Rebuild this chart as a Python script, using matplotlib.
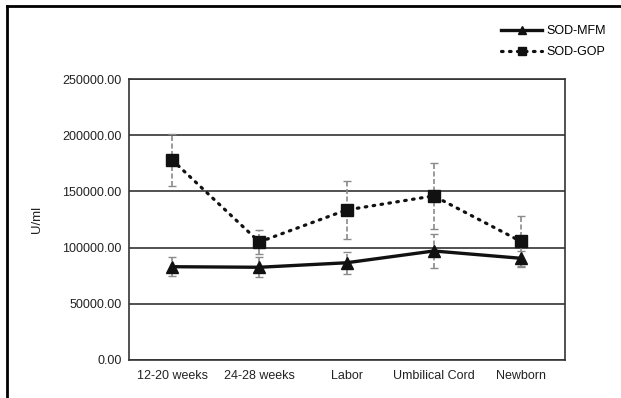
import matplotlib
matplotlib.use("Agg")
import matplotlib.pyplot as plt
from matplotlib.lines import Line2D
import numpy as np

plt.rcParams['font.family'] = ['Liberation Sans', 'DejaVu Sans']

categories = ["12-20 weeks", "24-28 weeks", "Labor", "Umbilical Cord", "Newborn"]
mfm_mean = [83000, 82500, 86500, 97000, 90500]
mfm_sd = [8500, 8700, 10000, 15000, 6500]
gop_mean = [178000, 105000, 133500, 146000, 105500]
gop_sd = [23000, 10500, 25500, 29500, 22800]
yticks = [0, 50000, 100000, 150000, 200000, 250000]

W, H = 621, 398
fig = plt.figure(figsize=(W / 100, H / 100), dpi=100)
ax = fig.add_axes([128.5 / W, 1 - 360 / H, (564.5 - 128.5) / W, (360 - 79) / H])

x = np.arange(len(categories))

# error bars
for means, sds in ((gop_mean, gop_sd), (mfm_mean, mfm_sd)):
    eb = ax.errorbar(x, means, yerr=sds, fmt='none', ecolor='#8a8a8a',
                     elinewidth=1.2, capsize=3, capthick=1.0, zorder=2)
    for lc in eb[2]:
        lc.set_linestyle((0, (3, 1.5)))

ax.plot(x, mfm_mean, color='#111111', lw=2.4, marker='^', ms=9,
        markerfacecolor='#111111', markeredgecolor='#111111', zorder=4, label='SOD-MFM')
ax.plot(x, gop_mean, color='#111111', lw=2.3, linestyle=(0, (0.5, 2.0)),
        dash_capstyle='round', marker='s', ms=8.6,
        markerfacecolor='#111111', markeredgecolor='#111111', zorder=4, label='SOD-GOP')

ax.set_xlim(-0.5, len(categories) - 0.5)
ax.set_ylim(0, 250000)
ax.set_yticks(yticks)
ax.set_yticklabels([f"{v:.2f}" for v in yticks])
ax.set_xticks(x)
ax.set_xticklabels(categories)
ax.tick_params(axis='both', length=0, labelsize=9, colors='#222222')
ax.tick_params(axis='y', pad=5)
ax.tick_params(axis='x', pad=7)
ax.yaxis.grid(True, color='#333333', lw=1.2)
ax.set_axisbelow(True)
for s in ax.spines.values():
    s.set_color('#333333')
    s.set_linewidth(1.2)
ax.set_ylabel('U/ml', fontsize=9.5, labelpad=14, color='#222222')

leg = fig.legend(loc='upper left', bbox_to_anchor=(501 / W, 1 - 25 / H), frameon=False,
                 fontsize=9, handlelength=3.3, handletextpad=0.35, labelspacing=0.75,
                 borderpad=0, borderaxespad=0, markerscale=0.7)

# outer frame (left and top edges visible)
fig.add_artist(Line2D([7 / W, 7 / W], [0, 1 - 6 / H], transform=fig.transFigure,
                      color='black', lw=2))
fig.add_artist(Line2D([7 / W, 1], [1 - 6 / H, 1 - 6 / H], transform=fig.transFigure,
                      color='black', lw=2))

fig.savefig('out.png', dpi=100)
